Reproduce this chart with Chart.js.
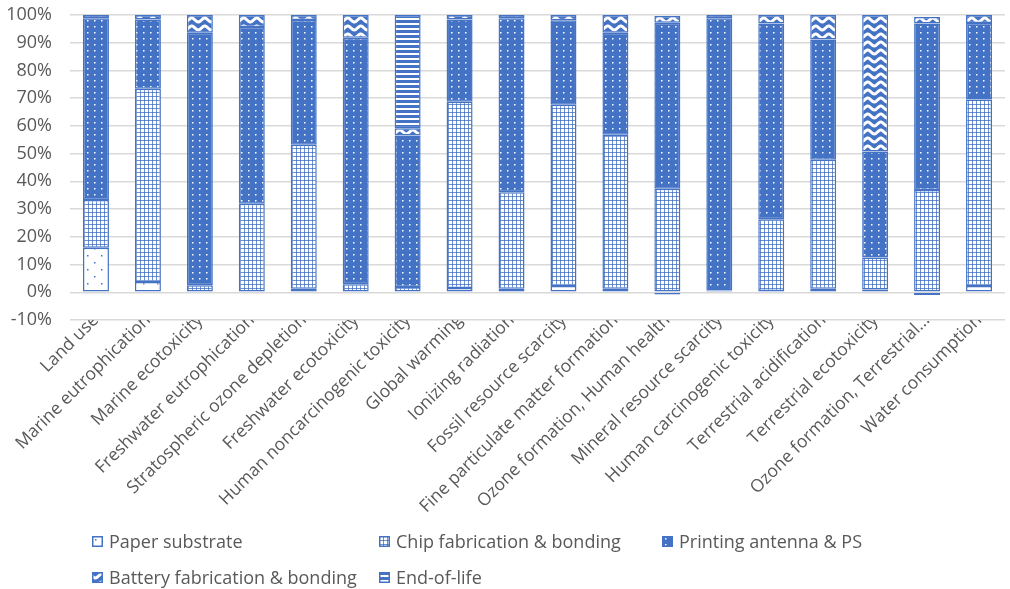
<!DOCTYPE html>
<html>
<head>
<meta charset="utf-8">
<script src="https://cdn.jsdelivr.net/npm/chart.js@4.4.1/dist/chart.umd.min.js"></script>
<style>
  html, body { margin: 0; padding: 0; background: #fff; }
  #wrap { position: relative; width: 1010px; height: 589px; }
  #chart { position: absolute; left: 0; top: 0; }
  .leg { position: absolute; display: flex; align-items: center; font-family: "Open Sans", sans-serif;
         font-size: 18px; color: #595959; white-space: nowrap; }
  .leg canvas { margin-right: 6px; }
</style>
</head>
<body>
<div id="wrap">
  <canvas id="chart" width="1010" height="589"></canvas>
</div>
<script>
const categories = [
  'Land use', 'Marine eutrophication', 'Marine ecotoxicity', 'Freshwater eutrophication',
  'Stratospheric ozone depletion', 'Freshwater ecotoxicity', 'Human noncarcinogenic toxicity',
  'Global warming', 'Ionizing radiation', 'Fossil resource scarcity',
  'Fine particulate matter formation', 'Ozone formation, Human health', 'Mineral resource scarcity',
  'Human carcinogenic toxicity', 'Terrestrial acidification', 'Terrestrial ecotoxicity',
  'Ozone formation, Terrestrial...', 'Water consumption'
];
const paperSubstrate = [16.1, 3.7, 0.3, 0.3, 1.3, 0.3, 0.3, 1.5, 1.3, 2.3, 1.3, -0.8, 0.3, 0.5, 1.3, 1.0, -1.0, 2.3];
const chipFabrication = [17.2, 69.7, 2.2, 31.6, 51.9, 2.6, 1.6, 67.2, 34.8, 65.3, 55.5, 37.3, 0.3, 25.8, 46.5, 11.5, 36.9, 67.2];
const printingAntenna = [65.5, 25.0, 91.1, 63.8, 45.0, 88.9, 54.6, 29.7, 62.7, 30.5, 36.8, 59.9, 98.2, 70.6, 43.4, 38.3, 60.0, 27.6];
const batteryFabrication = [1.2, 1.6, 6.4, 4.3, 1.8, 8.2, 2.7, 1.6, 1.2, 1.9, 6.4, 2.4, 1.2, 3.1, 8.8, 49.2, 2.4, 2.9];
const endOfLife = [0, 0, 0, 0, 0, 0, 40.8, 0, 0, 0, 0, 0, 0, 0, 0, 0, 0, 0];
const yTicks = [-10, 0, 10, 20, 30, 40, 50, 60, 70, 80, 90, 100];

const BLUE = '#4472C4';
const FONT = '"Open Sans", sans-serif';

// small tiles used as fill patterns
function makeTile(w, h, draw) {
  const c = document.createElement('canvas');
  c.width = w; c.height = h;
  const g = c.getContext('2d');
  draw(g, w, h);
  return c;
}

const tiles = {
  paper: makeTile(14, 14, (g) => {
    g.fillStyle = '#fff'; g.fillRect(0, 0, 14, 14);
    g.fillStyle = BLUE;
    g.fillRect(3, 3, 1.5, 1.5);
    g.fillRect(10, 10, 1.5, 1.5);
  }),
  chip: makeTile(4, 4, (g) => {
    g.fillStyle = '#fff'; g.fillRect(0, 0, 4, 4);
    g.fillStyle = '#6f91d0';
    g.fillRect(0, 0, 4, 1);
    g.fillRect(0, 0, 1, 4);
    g.fillStyle = BLUE;
    g.fillRect(0, 0, 1, 1);
  }),
  printing: makeTile(7, 6, (g) => {
    g.fillStyle = BLUE; g.fillRect(0, 0, 7, 6);
    g.fillStyle = '#fff';
    g.fillRect(3, 2, 1.5, 1.5);
  }),
  battery: makeTile(13, 8, (g) => {
    g.fillStyle = BLUE; g.fillRect(0, 0, 13, 8);
    g.strokeStyle = '#fff'; g.lineWidth = 3;
    g.beginPath();
    for (let x = -1; x <= 14; x += 0.5) {
      const y = 4 + 2 * Math.sin(x / 13 * Math.PI * 2);
      if (x === -1) g.moveTo(x, y); else g.lineTo(x, y);
    }
    g.stroke();
  }),
  eol: makeTile(5, 5, (g) => {
    g.fillStyle = BLUE; g.fillRect(0, 0, 5, 5);
    g.fillStyle = '#fff'; g.fillRect(0, 3, 5, 2);
  })
};

const ctx = document.getElementById('chart').getContext('2d');
const pat = (k) => ctx.createPattern(tiles[k], 'repeat');

const series = [
  { label: 'Paper substrate', data: paperSubstrate, key: 'paper' },
  { label: 'Chip fabrication & bonding', data: chipFabrication, key: 'chip' },
  { label: 'Printing antenna & PS', data: printingAntenna, key: 'printing' },
  { label: 'Battery fabrication & bonding', data: batteryFabrication, key: 'battery' },
  { label: 'End-of-life', data: endOfLife, key: 'eol' }
];

new Chart(ctx, {
  type: 'bar',
  data: {
    labels: categories,
    datasets: series.map(s => ({
      label: s.label,
      data: s.data,
      backgroundColor: pat(s.key),
      borderColor: BLUE,
      borderWidth: 1.5,
      borderSkipped: false,
      barPercentage: 0.5,
      categoryPercentage: 1
    }))
  },
  options: {
    responsive: false,
    animation: false,
    layout: { padding: { top: 15, right: 5, bottom: 64, left: 0 } },
    plugins: { legend: { display: false }, tooltip: { enabled: false } },
    scales: {
      x: {
        stacked: true,
        grid: { display: false, drawTicks: false },
        border: { display: false },
        ticks: {
          autoSkip: false, minRotation: 45, maxRotation: 45, padding: -10,
          color: '#595959', font: { family: FONT, size: 17.5 }
        },
        afterFit: (s) => { s.height = 205; }
      },
      y: {
        stacked: true,
        min: -10, max: 100,
        afterBuildTicks: (s) => { s.ticks = yTicks.map(v => ({ value: v })); },
        grid: { color: '#d9d9d9', lineWidth: 1.5, drawTicks: false },
        border: { display: false },
        ticks: {
          padding: 18, color: '#595959', font: { family: FONT, size: 18 },
          callback: (v) => v + '%'
        },
        afterFit: (s) => { s.width = 70; s.paddingTop = 0; s.paddingBottom = 0; }
      }
    }
  }
});

// legend laid out in columns like the original
const legendPos = [
  { x: 92, y: 541 }, { x: 379, y: 541 }, { x: 662, y: 541 },
  { x: 92, y: 577 }, { x: 379, y: 577 }
];
const wrap = document.getElementById('wrap');
series.forEach((s, i) => {
  const item = document.createElement('div');
  item.className = 'leg';
  item.style.left = legendPos[i].x + 'px';
  item.style.top = (legendPos[i].y - 12) + 'px';
  item.style.height = '24px';
  const sw = document.createElement('canvas');
  sw.width = 11; sw.height = 11;
  const g = sw.getContext('2d');
  g.fillStyle = g.createPattern(tiles[s.key], 'repeat');
  g.fillRect(0, 0, 11, 11);
  g.strokeStyle = BLUE; g.lineWidth = 1.5;
  g.strokeRect(0.75, 0.75, 9.5, 9.5);
  const txt = document.createElement('span');
  txt.textContent = s.label;
  item.appendChild(sw);
  item.appendChild(txt);
  wrap.appendChild(item);
});
</script>
</body>
</html>
